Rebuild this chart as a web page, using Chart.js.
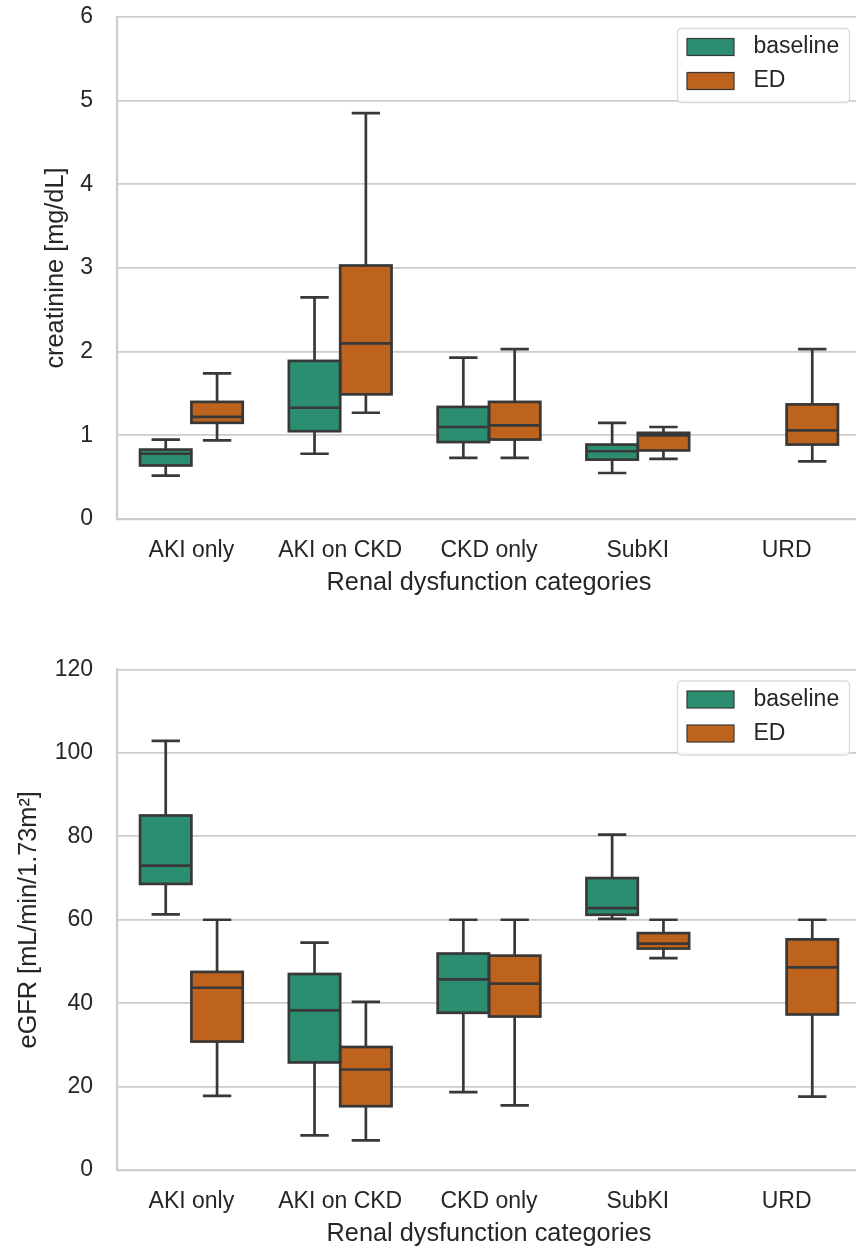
<!DOCTYPE html>
<html>
<head>
<meta charset="utf-8">
<title>Renal dysfunction categories</title>
<script src="https://cdn.jsdelivr.net/npm/chart.js@4.4.1/dist/chart.umd.min.js"></script>
<style>
    html, body { margin: 0; padding: 0; background: #ffffff; overflow: hidden; }
    #page { position: relative; width: 856px; height: 1247px; overflow: hidden; }
    .panel { position: absolute; left: 0; }
</style>
</head>
<body>
<div id="page">
    <canvas id="creatChart" class="panel" style="top:0px" width="870" height="598"></canvas>
    <canvas id="egfrChart" class="panel" style="top:620px" width="870" height="629"></canvas>
</div>
<script>
// categories + series names
const categories = ['AKI only', 'AKI on CKD', 'CKD only', 'SubKI', 'URD'];
const seriesNames = ['baseline', 'ED'];

// creatinine [mg/dL] - whisker low, q1, median, q3, whisker high
const creatBaseLow  = [0.52, 0.78, 0.73, 0.55, null];
const creatBaseQ1   = [0.64, 1.05, 0.92, 0.71, null];
const creatBaseMed  = [0.78, 1.33, 1.10, 0.81, null];
const creatBaseQ3   = [0.83, 1.89, 1.34, 0.89, null];
const creatBaseHigh = [0.95, 2.65, 1.93, 1.15, null];

const creatEdLow  = [0.94, 1.27, 0.73, 0.72, 0.69];
const creatEdQ1   = [1.15, 1.49, 0.95, 0.82, 0.89];
const creatEdMed  = [1.22, 2.10, 1.12, 1.00, 1.06];
const creatEdQ3   = [1.40, 3.03, 1.40, 1.03, 1.37];
const creatEdHigh = [1.74, 4.85, 2.03, 1.10, 2.03];

// eGFR [mL/min/1.73m2]
const egfrBaseLow  = [61.3, 8.3, 18.7, 60.2, null];
const egfrBaseQ1   = [68.6, 25.8, 37.7, 61.2, null];
const egfrBaseMed  = [73.0, 38.3, 45.7, 62.8, null];
const egfrBaseQ3   = [85.0, 47.0, 51.9, 70.0, null];
const egfrBaseHigh = [102.9, 54.5, 60.0, 80.4, null];

const egfrEdLow  = [17.8, 7.1, 15.5, 50.8, 17.6];
const egfrEdQ1   = [30.8, 15.3, 36.8, 53.1, 37.3];
const egfrEdMed  = [43.7, 24.1, 44.7, 54.3, 48.6];
const egfrEdQ3   = [47.5, 29.5, 51.4, 56.8, 55.3];
const egfrEdHigh = [60.0, 40.3, 60.0, 60.0, 60.0];

// y axis ticks
const creatTicks = [0, 1, 2, 3, 4, 5, 6];
const egfrTicks = [0, 20, 40, 60, 80, 100, 120];

const colors = ['#2b8e70', '#be631d'];
const LINE = '#383838';
const TEXT = '#262626';
const GRID = '#cccccc';
const FONT = '"Liberation Sans", Arial, Helvetica, sans-serif';

// outlines, medians, whiskers and caps drawn from the bar elements
const boxPlugin = {
    id: 'boxWhiskers',
    afterDatasetsDraw(chart) {
        const ctx = chart.ctx;
        const yScale = chart.scales.y;
        chart.data.datasets.forEach((ds, d) => {
            const meta = chart.getDatasetMeta(d);
            const st = ds.stats;
            meta.data.forEach((bar, i) => {
                if (st.q1[i] == null) return;
                const half = bar.width / 2;
                const x = bar.x;
                const yLow = yScale.getPixelForValue(st.low[i]);
                const yQ1 = yScale.getPixelForValue(st.q1[i]);
                const yMed = yScale.getPixelForValue(st.med[i]);
                const yQ3 = yScale.getPixelForValue(st.q3[i]);
                const yHigh = yScale.getPixelForValue(st.high[i]);

                ctx.save();
                ctx.strokeStyle = LINE;
                ctx.lineWidth = 2.7;
                ctx.lineJoin = 'miter';
                ctx.strokeRect(x - half, yQ3, bar.width, yQ1 - yQ3);

                ctx.beginPath();
                ctx.moveTo(x - half, yMed);
                ctx.lineTo(x + half, yMed);
                ctx.moveTo(x, yQ3);
                ctx.lineTo(x, yHigh);
                ctx.moveTo(x, yQ1);
                ctx.lineTo(x, yLow);
                ctx.stroke();

                ctx.lineCap = 'square';
                ctx.beginPath();
                ctx.moveTo(x - half / 2, yHigh);
                ctx.lineTo(x + half / 2, yHigh);
                ctx.moveTo(x - half / 2, yLow);
                ctx.lineTo(x + half / 2, yLow);
                ctx.stroke();
                ctx.restore();
            });
        });
    }
};

// framed legend in the upper right of the plot area
const legendPlugin = {
    id: 'boxLegend',
    afterDraw(chart) {
        const { ctx, chartArea } = chart;
        const w = 172, h = 74;
        const left = chartArea.right - 11.5 - w;
        const top = chartArea.top + 11.5;
        ctx.save();
        ctx.beginPath();
        if (ctx.roundRect) ctx.roundRect(left, top, w, h, 4);
        else ctx.rect(left, top, w, h);
        ctx.fillStyle = 'rgba(255,255,255,0.85)';
        ctx.fill();
        ctx.strokeStyle = '#d9d9d9';
        ctx.lineWidth = 1.3;
        ctx.stroke();

        chart.data.datasets.forEach((ds, i) => {
            const cy = top + 18.5 + i * 34;
            ctx.fillStyle = ds.backgroundColor;
            ctx.fillRect(left + 9.5, cy - 8.5, 47, 17);
            ctx.strokeStyle = LINE;
            ctx.lineWidth = 1.2;
            ctx.strokeRect(left + 9.5, cy - 8.5, 47, 17);
            ctx.fillStyle = TEXT;
            ctx.font = '23px ' + FONT;
            ctx.textAlign = 'left';
            ctx.textBaseline = 'middle';
            ctx.fillText(ds.label, left + 76, cy);
        });
        ctx.restore();
    }
};

const makeDataset = (i, low, q1, med, q3, high) => ({
    label: seriesNames[i],
    data: q1.map((v, k) => (v == null ? null : [v, q3[k]])),
    backgroundColor: colors[i],
    borderWidth: 0,
    stats: { low, q1, med, q3, high },
});

const makeChart = (canvasId, datasets, ticks, yTitle, titleLeftPad, topPad) => {
    const ctx = document.getElementById(canvasId).getContext('2d');
    return new Chart(ctx, {
        type: 'bar',
        data: { labels: categories, datasets },
        plugins: [boxPlugin, legendPlugin],
        options: {
            responsive: false,
            animation: false,
            events: [],
            categoryPercentage: 0.69,
            barPercentage: 1.0,
            layout: { padding: { top: topPad, right: 9, bottom: 0, left: 0 } },
            plugins: {
                legend: { display: false },
                tooltip: { enabled: false },
            },
            scales: {
                x: {
                    grid: { display: false, drawTicks: false },
                    border: { display: true, color: GRID, width: 2.2 },
                    ticks: { color: TEXT, font: { family: FONT, size: 23 }, padding: 18 },
                    title: {
                        display: true,
                        text: 'Renal dysfunction categories',
                        color: TEXT,
                        font: { family: FONT, size: 25.3 },
                        padding: { top: -15, bottom: 0 },
                    },
                },
                y: {
                    min: ticks[0],
                    max: ticks[ticks.length - 1],
                    afterBuildTicks: (scale) => {
                        scale.ticks = ticks.map(v => ({ value: v }));
                    },
                    afterFit: (scale) => {
                        // fixed axis width, no extra room above the top tick
                        scale.width = 117;
                        scale.paddingTop = 14;
                        scale.paddingBottom = 14;
                    },
                    grid: { color: GRID, lineWidth: 1.8, drawTicks: false },
                    border: { display: true, color: GRID, width: 2.2 },
                    ticks: { color: TEXT, font: { family: FONT, size: 23 }, padding: 24 },
                    title: {
                        display: true,
                        text: yTitle,
                        color: TEXT,
                        font: { family: FONT, size: 25.3 },
                        padding: { top: titleLeftPad, bottom: 0 },
                    },
                },
            },
        },
    });
};

makeChart('creatChart', [
    makeDataset(0, creatBaseLow, creatBaseQ1, creatBaseMed, creatBaseQ3, creatBaseHigh),
    makeDataset(1, creatEdLow, creatEdQ1, creatEdMed, creatEdQ3, creatEdHigh),
], creatTicks, 'creatinine [mg/dL]', 40.8, 17);

makeChart('egfrChart', [
    makeDataset(0, egfrBaseLow, egfrBaseQ1, egfrBaseMed, egfrBaseQ3, egfrBaseHigh),
    makeDataset(1, egfrEdLow, egfrEdQ1, egfrEdMed, egfrEdQ3, egfrEdHigh),
], egfrTicks, 'eGFR [mL/min/1.73m²]', 13.8, 49.5);
</script>
</body>
</html>
